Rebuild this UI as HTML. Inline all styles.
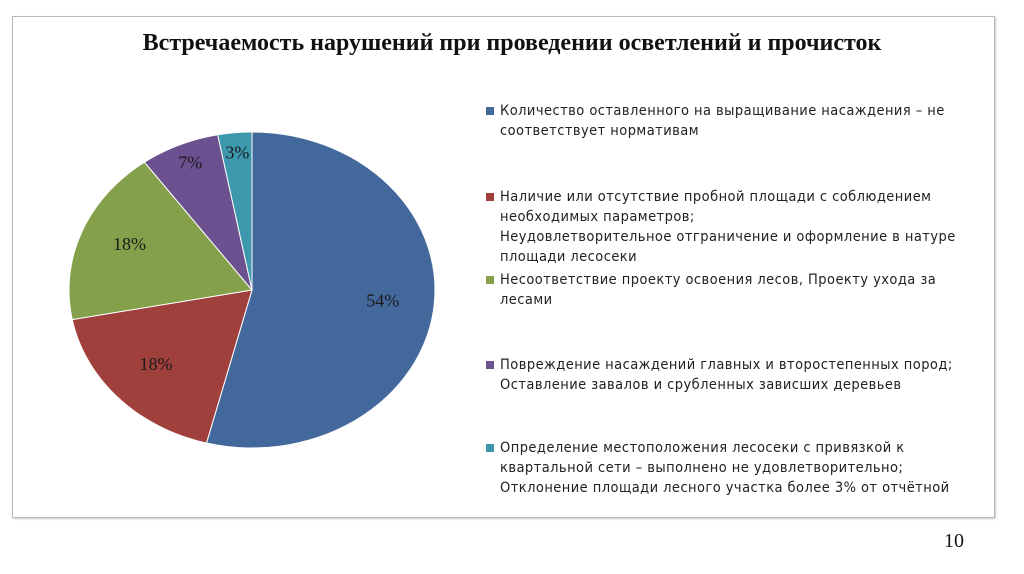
<!DOCTYPE html>
<html><head><meta charset="utf-8">
<style>
body{margin:0;width:1024px;height:574px;background:#fff;position:relative;overflow:hidden;font-family:"Liberation Sans",sans-serif}
#frame{position:absolute;left:12px;top:16px;width:981px;height:500px;border:1px solid #b8b8b8;box-shadow:1px 1px 2px #ccc}
#title{position:absolute;left:0;width:1024px;top:30px;text-align:center;font-family:"Liberation Serif",serif;font-weight:bold;font-size:24px;color:#111;letter-spacing:0px}
.leg{position:absolute;left:500px;font-size:14.5px;letter-spacing:0.45px;color:#222;line-height:20px;font-family:"DejaVu Sans Condensed","Liberation Sans",sans-serif;white-space:nowrap}
.sw{position:absolute;left:-14px;top:6px;width:8px;height:8px}
#pnum{position:absolute;left:944px;top:530px;font-family:"Liberation Serif",serif;font-size:20px;color:#111}
</style></head><body>
<div id="frame"></div>
<div id="title">Встречаемость нарушений при проведении осветлений и прочисток</div>
<svg id="pie" width="1024" height="574" style="position:absolute;left:0;top:0"></svg>
<div class="leg" style="top:101px"><span class="sw" style="background:#43689b"></span>Количество оставленного на выращивание насаждения –  не<br>соответствует нормативам</div>
<div class="leg" style="top:187px"><span class="sw" style="background:#a0403d"></span>Наличие или отсутствие пробной площади с соблюдением<br>необходимых параметров;<br>Неудовлетворительное отграничение и оформление в натуре<br>площади лесосеки</div>
<div class="leg" style="top:270px"><span class="sw" style="background:#84a04b"></span>Несоответствие проекту освоения лесов, Проекту ухода за<br>лесами</div>
<div class="leg" style="top:355px"><span class="sw" style="background:#6c5190"></span>Повреждение насаждений главных и второстепенных пород;<br>Оставление завалов и срубленных зависших деревьев</div>
<div class="leg" style="top:438px"><span class="sw" style="background:#3d97ad"></span>Определение местоположения лесосеки с привязкой к<br>квартальной сети – выполнено не удовлетворительно;<br>Отклонение площади лесного участка более 3% от отчётной</div>
<div id="pnum">10</div>
<script>
const categories=["cat1","cat2","cat3","cat4","cat5"];
const values=[54,18,18,7,3];
const labels=["54%","18%","18%","7%","3%"];
const colors=["#43689b","#a0403d","#84a04b","#6c5190","#3d97ad"];
const cx=252,cy=290,rx=183,ry=158;
const svg=document.getElementById('pie');
const NS='http://www.w3.org/2000/svg';
const total=values.reduce((a,b)=>a+b,0);
function pt(a,f){return [cx+rx*f*Math.sin(a),cy-ry*f*Math.cos(a)];}
let acc=0;
values.forEach((v,i)=>{
  const a0=acc/total*2*Math.PI; acc+=v; const a1=acc/total*2*Math.PI;
  let d='M'+cx+','+cy;
  for(let k=0;k<=60;k++){const p=pt(a0+(a1-a0)*k/60,1);d+=' L'+p[0].toFixed(2)+','+p[1].toFixed(2);}
  d+=' Z';
  const path=document.createElementNS(NS,'path');
  path.setAttribute('d',d);path.setAttribute('fill',colors[i]);path.setAttribute('stroke','#fff');path.setAttribute('stroke-width','1');
  
  
  svg.appendChild(path);
  const am=(a0+a1)/2; const f=v<10?0.85:0.72;
  const p=pt(am,f);
  const t=document.createElementNS(NS,'text');
  t.setAttribute('x',p[0]);t.setAttribute('y',p[1]+2);t.setAttribute('text-anchor','middle');
  t.setAttribute('font-family','Liberation Serif, serif');t.setAttribute('font-size','18');t.setAttribute('fill','#1a1a1a');
  t.textContent=labels[i];
  
  
  svg.appendChild(t);
});
</script>
</body></html>
